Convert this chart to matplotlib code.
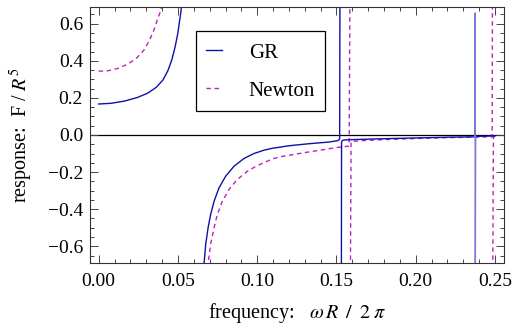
import numpy as np
import matplotlib
matplotlib.use("Agg")
import matplotlib.pyplot as plt
from matplotlib.ticker import MultipleLocator, FuncFormatter
from matplotlib.lines import Line2D

plt.rcParams['font.family'] = ['Liberation Serif', 'DejaVu Serif']
plt.rcParams['mathtext.fontset'] = 'stix'

nan = np.nan
# GR response (solid); nan separates branches
gr_f = [0.0, 0.008, 0.0164, 0.0247, 0.031, 0.0363, 0.0405, 0.0436, 0.0461, 0.0482,
        0.0499, 0.0511, 0.052, 0.0525, nan,
        0.0658, 0.0665, 0.0675, 0.069, 0.0706, 0.0728, 0.0759, 0.0801, 0.0853, 0.0916,
        0.0979, 0.1042, 0.1094, 0.1201, 0.1327, 0.1453, 0.1505, 0.1515, 0.1520, 0.1522, nan,
        0.1531, 0.1532, 0.1537, 0.1545, 0.16, 0.18, 0.20, 0.22, 0.2373, nan,
        0.2378, 0.245, 0.25]
gr_y = [0.167, 0.171, 0.183, 0.203, 0.226, 0.257, 0.296, 0.346, 0.404, 0.475,
        0.547, 0.619, 0.673, 0.76, nan,
        -0.76, -0.689, -0.59, -0.501, -0.429, -0.357, -0.285, -0.222, -0.169, -0.127,
        -0.100, -0.082, -0.072, -0.058, -0.047, -0.038, -0.031, -0.027, -0.020, 0.76, nan,
        -0.76, -0.040, -0.030, -0.027, -0.025, -0.020, -0.016, -0.012, -0.010, nan,
        -0.008, -0.006, -0.005]
# narrow GR resonance near 0.2375 (drawn lighter in the reference)
gr_spike_f = [0.2373, 0.2375, 0.2376, 0.2378]
gr_spike_y = [-0.010, 0.658, -0.76, -0.008]

# Newtonian response (dashed)
nw_f = [0.0, 0.0059, 0.0121, 0.0184, 0.0237, 0.0285, 0.0321, 0.0348, 0.0373, 0.0394, 0.0400, nan,
        0.0682, 0.0692, 0.0706, 0.0728, 0.0748, 0.078, 0.0822, 0.0874, 0.0937, 0.1,
        0.1063, 0.1094, 0.116, 0.1285, 0.141, 0.150, 0.155, 0.158, 0.1585, nan,
        0.1588, 0.1592, 0.165, 0.18, 0.20, 0.22, 0.24, 0.2482, 0.2484, nan,
        0.2486, 0.2490, 0.25]
nw_y = [0.344, 0.346, 0.359, 0.382, 0.413, 0.457, 0.511, 0.565, 0.628, 0.676, 0.76, nan,
        -0.76, -0.68, -0.59, -0.50, -0.429, -0.357, -0.294, -0.24, -0.196, -0.165,
        -0.142, -0.129, -0.115, -0.097, -0.080, -0.068, -0.063, -0.060, 0.76, nan,
        -0.76, -0.036, -0.031, -0.025, -0.019, -0.0145, -0.011, -0.010, 0.76, nan,
        -0.76, -0.010, -0.010]

labels = ["GR", "Newton"]
gr_color = '#1010a8'
nw_color = '#bb22bb'

fig = plt.figure(figsize=(5.13, 3.25), dpi=100)
ax = fig.add_axes([0.1754, 0.1908, 0.8071, 0.7877])

ax.axhline(0, color='black', lw=0.9, zorder=1)
ax.plot(gr_f, gr_y, color=gr_color, lw=1.0, zorder=3)
ax.plot(gr_spike_f, gr_spike_y, color='#7a7ad8', lw=1.0, zorder=3)
ax.plot(nw_f, nw_y, color=nw_color, lw=1.0, dashes=(3.2, 2.6), zorder=2)

ax.set_xlim(-0.0055, 0.2557)
ax.set_ylim(-0.69, 0.69)

ax.xaxis.set_major_locator(MultipleLocator(0.05))
ax.xaxis.set_minor_locator(MultipleLocator(0.01))
ax.yaxis.set_major_locator(MultipleLocator(0.2))
ax.yaxis.set_minor_locator(MultipleLocator(0.05))

def fmt(d):
    def f(v, pos):
        s = f"{v:.{d}f}"
        if float(s) == 0:
            s = s.lstrip('-')
        return s.replace('-', '\u2212')
    return FuncFormatter(f)

ax.xaxis.set_major_formatter(fmt(2))
ax.yaxis.set_major_formatter(fmt(1))

ax.tick_params(which='both', direction='in', top=True, right=True, color='#444444', width=0.7)
ax.tick_params(which='major', length=5.5)
ax.tick_params(which='minor', length=3)
ax.tick_params(axis='x', which='major', pad=7, labelsize=14)
ax.tick_params(axis='y', which='major', pad=5, labelsize=14)
for s in ax.spines.values():
    s.set_linewidth(0.8)
    s.set_color('#333333')

ax.set_xlabel(r'frequency:   $\omega\,R\;\;/\;\;2\;\pi$', fontsize=14.5, labelpad=8)
ax.set_ylabel(r'response:  F / $R^5$', fontsize=14.5, labelpad=9)

handles = [Line2D([], [], color=gr_color, lw=1.0),
           Line2D([], [], color=nw_color, lw=1.0, dashes=(3.2, 2.6))]
leg = ax.legend(handles, labels, loc='upper left', bbox_to_anchor=(0.255, 0.906),
                borderaxespad=0, fontsize=15, handlelength=0.75, handletextpad=1.3,
                handleheight=1.0, labelspacing=0.8, borderpad=0.5,
                fancybox=False, framealpha=1, edgecolor='black')
leg.get_frame().set_linewidth(0.9)

fig.savefig('out.png', dpi=100)
